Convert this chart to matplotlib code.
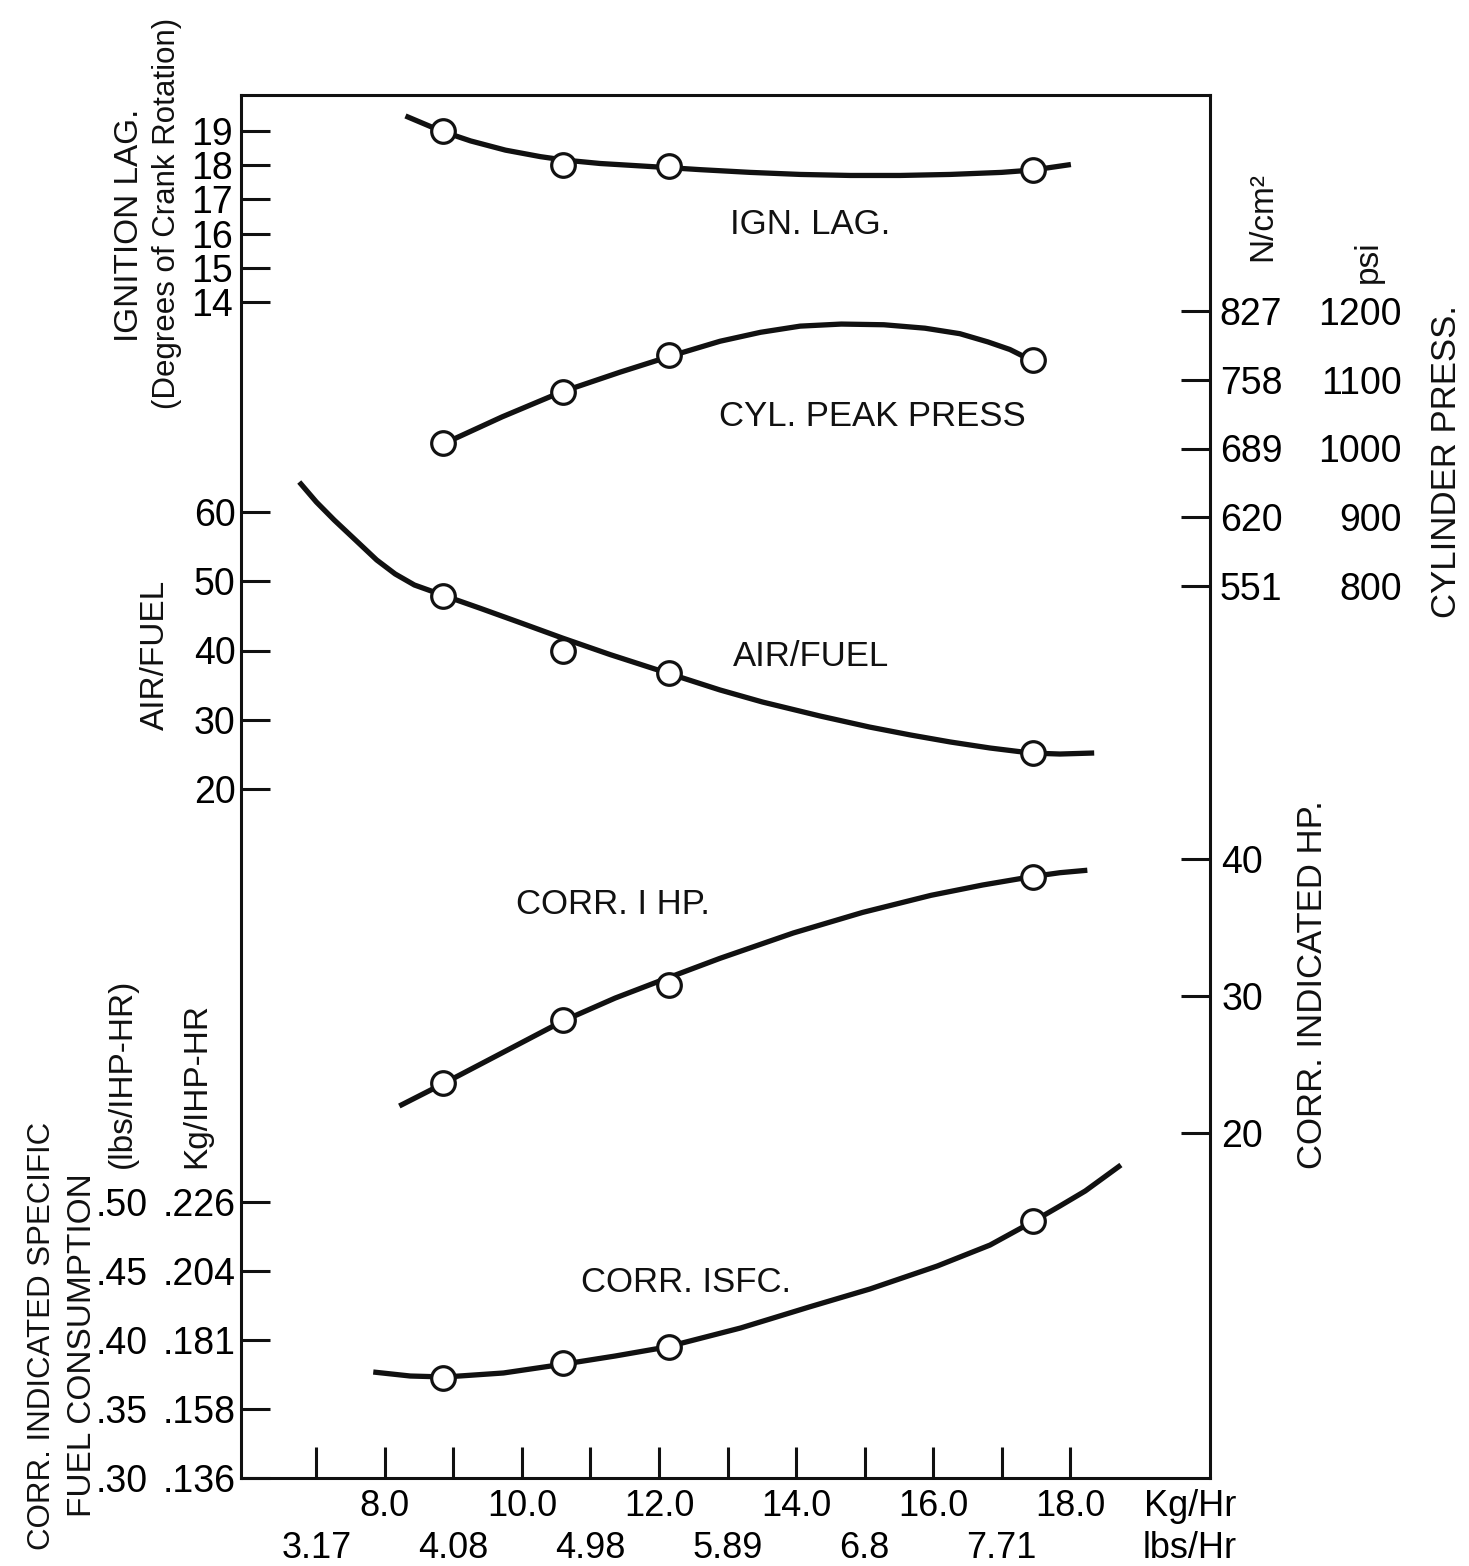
import matplotlib.pyplot as plt

plt.rcParams['font.family'] = ['Liberation Sans', 'DejaVu Sans']

# fuel flow axis (Kg/Hr) and its second row of labels (lbs/Hr)
kg_ticks = [7, 8, 9, 10, 11, 12, 13, 14, 15, 16, 17, 18]
kg_label_pos = [8, 10, 12, 14, 16, 18]
kg_labels = ['8.0', '10.0', '12.0', '14.0', '16.0', '18.0']
lbs_label_pos = [7, 9, 11, 13, 15, 17]
lbs_labels = ['3.17', '4.08', '4.98', '5.89', '6.8', '7.71']

# measured test points (fuel flow, Kg/Hr)
test_kg = [8.85, 10.6, 12.15, 17.45]

# ignition lag, degrees of crank rotation
ign_lag = [19.0, 18.0, 17.98, 17.86]
ign_curve_kg = [8.30, 8.82, 9.25, 9.76, 10.27, 10.62, 11.14, 11.72, 12.13, 12.60,
                13.33, 14.06, 14.79, 15.52, 16.25, 17.0, 17.46, 18.01]
ign_curve = [19.44, 19.0, 18.71, 18.44, 18.25, 18.15, 18.05, 17.98, 17.93, 17.87,
             17.79, 17.73, 17.70, 17.70, 17.73, 17.79, 17.86, 18.02]
ign_ticks = [14, 15, 16, 17, 18, 19]

# cylinder peak pressure, psi
press_psi = [1008, 1082, 1136, 1129]
press_curve_kg = [8.88, 9.71, 10.57, 11.43, 12.22, 12.89, 13.48, 14.06, 14.66,
                  15.28, 15.88, 16.39, 16.80, 17.12, 17.42]
press_curve = [1008, 1046, 1082, 1111, 1136, 1156, 1169, 1178, 1181,
               1180, 1175, 1167, 1155, 1144, 1129]
press_ticks = [800, 900, 1000, 1100, 1200]
press_ncm2 = ['551', '620', '689', '758', '827']

# air / fuel ratio
airfuel = [47.9, 40.0, 36.8, 25.2]
af_curve_kg = [6.75, 7.0, 7.26, 7.57, 7.88, 8.15, 8.43, 8.88, 9.39, 9.98, 10.59,
               11.29, 12.12, 12.89, 13.51, 14.35, 15.07, 15.67, 16.25, 16.83,
               17.42, 17.85, 18.35]
af_curve = [64.33, 61.44, 58.84, 55.96, 53.07, 51.05, 49.46, 47.87, 46.1, 44.0,
            41.8, 39.4, 36.75, 34.30, 32.56, 30.54, 28.95, 27.80, 26.79, 25.92,
            25.2, 25.05, 25.2]
af_ticks = [20, 30, 40, 50, 60]

# corrected indicated horsepower
ihp = [23.65, 28.25, 30.8, 38.69]
ihp_curve_kg = [8.21, 8.87, 9.68, 10.60, 11.36, 12.09, 12.89, 13.96, 14.97,
                15.97, 16.72, 17.45, 17.85, 18.25]
ihp_curve = [21.97, 23.65, 25.77, 28.18, 29.85, 31.25, 32.75, 34.6, 36.1,
             37.35, 38.1, 38.72, 39.0, 39.18]
ihp_ticks = [20, 30, 40]

# corrected ISFC, lbs/IHP-HR
isfc = [0.3725, 0.383, 0.395, 0.486]
isfc_curve_kg = [7.83, 8.37, 8.88, 9.73, 10.62, 11.36, 12.11, 13.19, 14.19, 15.08,
                 16.06, 16.83, 17.47, 17.85, 18.22, 18.74]
isfc_curve = [0.3768, 0.3739, 0.3732, 0.3761, 0.3826, 0.3884, 0.3949, 0.4087,
              0.4239, 0.4370, 0.4536, 0.4688, 0.4862, 0.4971, 0.5080, 0.5268]
isfc_ticks = [0.30, 0.35, 0.40, 0.45, 0.50]
isfc_lbs = ['.30', '.35', '.40', '.45', '.50']
isfc_kg = ['.136', '.158', '.181', '.204', '.226']

# ---- layout (pixels of the 1469x1566 output) ----
W, H = 1469, 1566
L, R, T, B = 241, 1210, 95, 1478
pos = [L / W, 1 - B / H, (R - L) / W, (B - T) / H]
xlim = (5.90, 20.04)
INK = '#111111'
TICK_FS = 27
TXT_FS = 25


def ylim_from(p1, v1, p2, v2):
    # two tick marks (pixel row, value) -> limits at the frame bottom/top
    k = (v1 - v2) / (p2 - p1)
    return v1 - (B - p1) * k, v1 + (p1 - T) * k


fig = plt.figure(figsize=(W / 100, H / 100), dpi=100)
fig.patch.set_facecolor('white')

ax = fig.add_axes(pos, label='frame')
ax.set_xlim(xlim)
ax.set_ylim(0, 1)
ax.set_yticks([])
ax.set_xticks(kg_ticks)
ax.set_xticklabels([])
ax.tick_params(axis='x', direction='in', length=22, width=2.2, color=INK)
for s in ax.spines.values():
    s.set_linewidth(2.2)
    s.set_color(INK)

n_layers = [0]


def layer(ylim):
    n_layers[0] += 1
    a = fig.add_axes(pos, frameon=False, label='layer%d' % n_layers[0])
    a.set_xlim(xlim)
    a.set_ylim(*ylim)
    a.set_xticks([])
    a.set_yticks([])
    return a


def curve(a, cx, cy, px, py):
    a.plot(cx, cy, color=INK, lw=3.8, solid_capstyle='butt',
           solid_joinstyle='round', zorder=2)
    a.plot(px, py, 'o', ms=17, mfc='white', mec=INK, mew=2.3, zorder=3)


# ignition lag (left)
a_ign = layer(ylim_from(131, 19, 302, 14))
curve(a_ign, ign_curve_kg, ign_curve, test_kg, ign_lag)
a_ign.set_yticks(ign_ticks)
a_ign.set_yticklabels([str(v) for v in ign_ticks])
a_ign.tick_params(axis='y', left=True, direction='in', length=21, width=2.2,
                  pad=6, labelsize=TICK_FS, color=INK)

# cylinder peak pressure (right, two label columns)
press_lim = ylim_from(311, 1200, 586, 800)
a_p = layer(press_lim)
curve(a_p, press_curve_kg, press_curve, test_kg, press_psi)
a_p.yaxis.tick_right()
a_p.set_yticks(press_ticks)
a_p.set_yticklabels(press_ncm2)
a_p.tick_params(axis='y', direction='in', length=21, width=2.2, pad=7,
                labelsize=TICK_FS, color=INK)
a_psi = layer(press_lim)
a_psi.yaxis.tick_right()
a_psi.set_yticks(press_ticks)
a_psi.set_yticklabels([str(v) for v in press_ticks])
a_psi.tick_params(axis='y', length=0, pad=138, labelsize=TICK_FS)
for t in a_psi.get_yticklabels():
    t.set_horizontalalignment('right')

# air / fuel (left)
a_af = layer(ylim_from(512, 60, 789, 20))
curve(a_af, af_curve_kg, af_curve, test_kg, airfuel)
a_af.set_yticks(af_ticks)
a_af.set_yticklabels([str(v) for v in af_ticks])
a_af.tick_params(axis='y', direction='in', length=21, width=2.2, pad=4,
                 labelsize=TICK_FS, color=INK)

# corrected IHP (right)
a_hp = layer(ylim_from(859, 40, 1133, 20))
curve(a_hp, ihp_curve_kg, ihp_curve, test_kg, ihp)
a_hp.yaxis.tick_right()
a_hp.set_yticks(ihp_ticks)
a_hp.set_yticklabels([str(v) for v in ihp_ticks])
a_hp.tick_params(axis='y', direction='in', length=21, width=2.2, pad=8,
                 labelsize=TICK_FS, color=INK)

# corrected ISFC (left, two label columns)
isfc_lim = ylim_from(1202, 0.50, 1478, 0.30)
a_sf = layer(isfc_lim)
curve(a_sf, isfc_curve_kg, isfc_curve, test_kg, isfc)
a_sf.set_yticks(isfc_ticks)
a_sf.set_yticklabels(isfc_kg)
a_sf.tick_params(axis='y', direction='in', length=21, width=2.2, pad=4,
                 labelsize=TICK_FS, color=INK)
a_sf2 = layer(isfc_lim)
a_sf2.set_yticks(isfc_ticks)
a_sf2.set_yticklabels(isfc_lbs)
a_sf2.tick_params(axis='y', length=0, pad=67, labelsize=TICK_FS)

# bottom labels: Kg/Hr row and lbs/Hr row
unit_x = 19.75
a_kg = layer((0, 1))
a_kg.set_xticks(kg_label_pos + [unit_x])
a_kg.set_xticklabels(kg_labels + ['Kg/Hr'])
a_kg.tick_params(axis='x', length=0, pad=8, labelsize=TXT_FS + 1)
a_lb = layer((0, 1))
a_lb.set_xticks(lbs_label_pos + [unit_x])
a_lb.set_xticklabels(lbs_labels + ['lbs/Hr'])
a_lb.tick_params(axis='x', length=0, pad=38, labelsize=TXT_FS + 1)

# curve names inside the frame
names = [('IGN. LAG.', 810, 225), ('CYL. PEAK PRESS', 872, 416),
         ('AIR/FUEL', 811, 657), ('CORR. I HP.', 613, 905),
         ('CORR. ISFC.', 686, 1283)]
for s, x, y in names:
    fig.text(x / W, 1 - y / H, s, ha='center', va='center', fontsize=TXT_FS,
             color=INK)

# rotated axis titles (text, x, y, size)
titles = [('IGNITION LAG.', 130, 225, 24),
          ('(Degrees of Crank Rotation)', 167, 213, 22.5),
          ('AIR/FUEL', 155, 655, 24),
          ('CORR. INDICATED SPECIFIC', 42, 1336, 22.5),
          ('FUEL CONSUMPTION', 83, 1345, 24),
          ('(lbs/IHP-HR)', 122, 1073, 24),
          ('Kg/IHP-HR', 197, 1085, 24),
          ('N/cm²', 1263, 217, 24),
          ('psi', 1368, 262, 24),
          ('CYLINDER PRESS.', 1447, 462, 25),
          ('CORR. INDICATED HP.', 1313, 985, 25)]
for s, x, y, fs in titles:
    fig.text(x / W, 1 - y / H, s, rotation=90, ha='center', va='center',
             fontsize=fs, color=INK)

fig.savefig('out.png', dpi=100, facecolor='white')
